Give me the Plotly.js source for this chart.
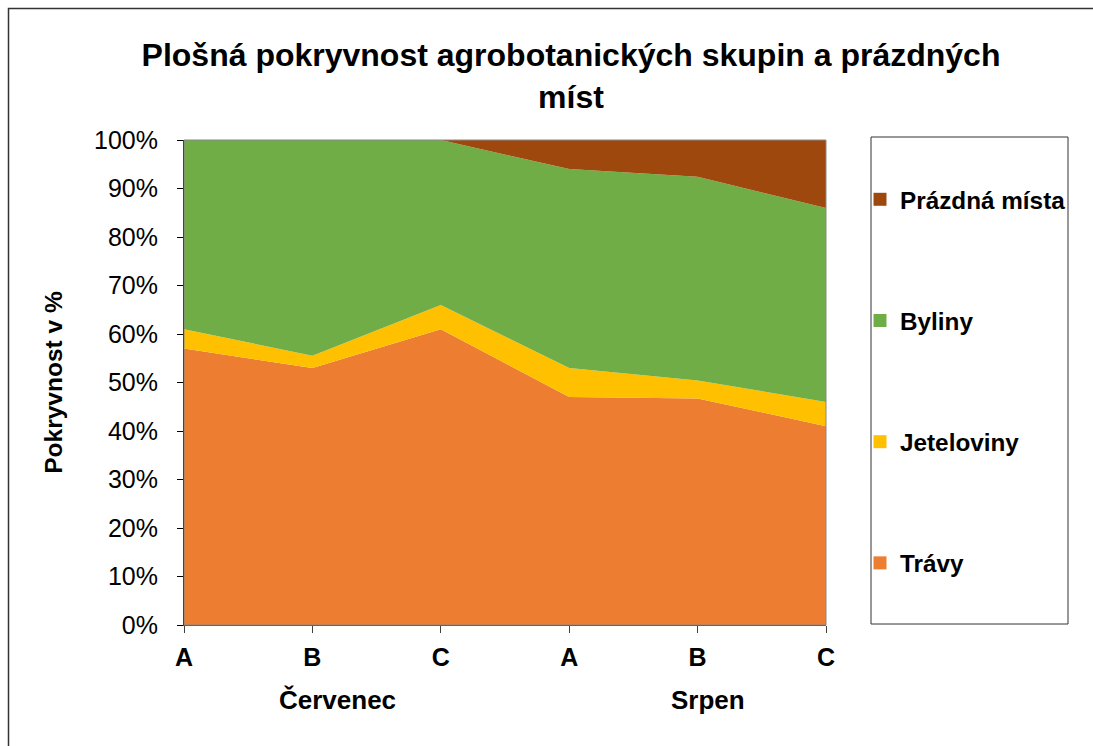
<!DOCTYPE html>
<html>
<head>
<meta charset="utf-8">
<script src="https://cdn.plot.ly/plotly-3.0.1.min.js"></script>
<style>html,body{margin:0;padding:0;background:#fff}#chart{width:1093px;height:746px}</style>
</head>
<body>
<div id="chart"></div>
<script>
var subLabels = ["A", "B", "C", "A", "B", "C"];
var months = ["Červenec", "Srpen"];
var travy = [57, 53, 61, 47, 46.7, 41];
var jeteloviny = [4, 2.5, 5, 6, 3.7, 5];
var byliny = [39, 44.5, 34, 41, 42, 40];
var prazdna = [0, 0, 0, 6, 7.6, 14];
var seriesNames = ["Trávy", "Jeteloviny", "Byliny", "Prázdná místa"];
var seriesColors = ["#ED7D31", "#FFC000", "#70AD47", "#9E480E"];
var yTicks = [0, 10, 20, 30, 40, 50, 60, 70, 80, 90, 100];
var yTickLabels = ["0%", "10%", "20%", "30%", "40%", "50%", "60%", "70%", "80%", "90%", "100%"];

var F = "Liberation Sans, Arial, sans-serif";
var xs = subLabels.map(function(_, i){ return i; });
var seriesValues = [travy, jeteloviny, byliny, prazdna];

var traces = [];
seriesValues.forEach(function(vals, k){
  traces.push({
    type: "scatter", x: xs, y: vals, stackgroup: "one", mode: "none",
    fillcolor: seriesColors[k], line: {width: 0}, showlegend: false,
    hoverinfo: "skip", name: seriesNames[k]
  });
});
// legend entries (top to bottom: Prázdná místa, Byliny, Jeteloviny, Trávy)
[3, 2, 1, 0].forEach(function(k){
  traces.push({
    type: "scatter", x: [null], y: [null], mode: "markers", name: seriesNames[k],
    legendgroup: "g" + k,
    marker: {symbol: "square", size: 13, color: seriesColors[k]}
  });
});

var L = 184, R = 826, T = 140, B = 625, W = 1093, H = 746;
function px(x){ return (x - L) / (R - L); }
function py(y){ return (B - y) / (B - T); }

var layout = {
  width: W, height: H,
  margin: {l: L, r: W - R, t: T, b: H - B},
  paper_bgcolor: "#fff", plot_bgcolor: "#fff",
  font: {family: F, color: "#000"},
  title: {
    text: "Plošná pokryvnost agrobotanických skupin a prázdných<br>míst",
    font: {family: F, size: 32, weight: "bold", color: "#000"},
    xref: "container", x: 571 / W, xanchor: "center",
    yref: "container", y: 1 - 66 / H, yanchor: "top"
  },
  xaxis: {
    range: [0, 5], tickmode: "array", tickvals: xs, ticktext: subLabels,
    showgrid: false, zeroline: false, showline: true, linecolor: "#404040", linewidth: 1,
    ticks: "outside", ticklen: 7, tickcolor: "#404040",
    tickfont: {family: F, size: 25, weight: "bold", color: "#000"},
    ticklabelstandoff: 3, fixedrange: true
  },
  yaxis: {
    range: [0, 100], tickmode: "array", tickvals: yTicks, ticktext: yTickLabels,
    showgrid: false, zeroline: false, showline: true, linecolor: "#000", linewidth: 1,
    ticks: "outside", ticklen: 6, tickcolor: "#000",
    tickfont: {family: F, size: 25, color: "#000"},
    ticklabelstandoff: 14,
    title: {text: "Pokryvnost v %", font: {family: F, size: 24.5, weight: "bold", color: "#000"}, standoff: 24},
    fixedrange: true
  },
  legend: {
    xref: "paper", yref: "paper", x: px(860), y: py(177), xanchor: "left", yanchor: "top",
    traceorder: "grouped", tracegroupgap: 86.6,
    font: {family: F, size: 24.3, weight: "bold", color: "#000"},
    bgcolor: "rgba(0,0,0,0)", borderwidth: 0
  },
  shapes: [
    {type: "rect", xref: "paper", yref: "paper", x0: 0, x1: 1, y0: 0, y1: 1,
     line: {color: "#888", width: 1}, layer: "above"},
    {type: "rect", xref: "paper", yref: "paper", x0: px(871), x1: px(1068), y0: py(624), y1: py(137),
     line: {color: "#333", width: 1}, fillcolor: "rgba(0,0,0,0)"},
    {type: "rect", xref: "paper", yref: "paper", x0: px(8.5), x1: px(1200), y0: py(800), y1: py(8.5),
     line: {color: "#333", width: 1.5}, fillcolor: "rgba(0,0,0,0)"}
  ],
  annotations: [
    {text: months[0], xref: "paper", yref: "paper", x: px(337), y: py(700), showarrow: false,
     xanchor: "center", yanchor: "middle", font: {family: F, size: 26, weight: "bold", color: "#000"}},
    {text: months[1], xref: "paper", yref: "paper", x: px(708), y: py(700), showarrow: false,
     xanchor: "center", yanchor: "middle", font: {family: F, size: 26, weight: "bold", color: "#000"}}
  ]
};

Plotly.newPlot("chart", traces, layout, {staticPlot: true, displayModeBar: false});
</script>
</body>
</html>
